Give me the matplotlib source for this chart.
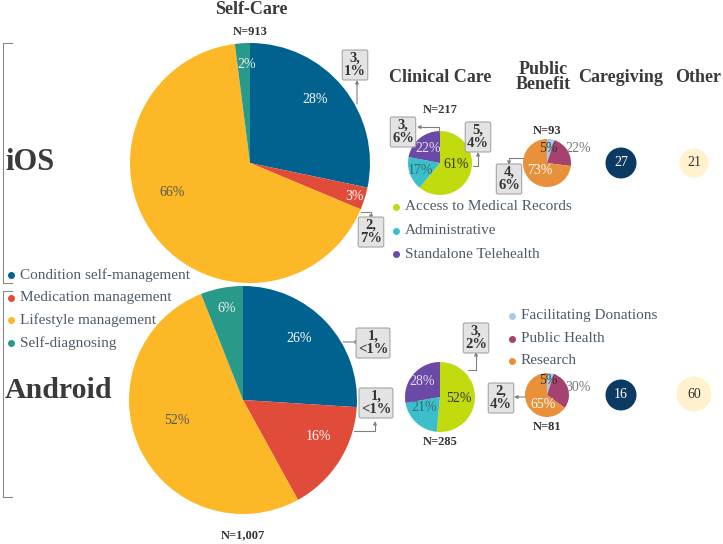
import matplotlib.pyplot as plt
from matplotlib.patches import Circle

plt.rcParams['font.family'] = ['Liberation Serif', 'DejaVu Serif']

H = 544

def P(x, y):
    # pixel position (origin top-left) -> axes data
    return (x, H - y)

# ---- data ----
self_cats = ['Condition self-management', 'Medication management',
             'Lifestyle management', 'Self-diagnosing']
self_colors = ['#02628F', '#E14B39', '#FDB827', '#29998A']
self_ios = [28, 3, 66, 2]
self_android = [26, 16, 52, 6]
self_n = ['N=913', 'N=1,007']

clin_cats = ['Access to Medical Records', 'Administrative', 'Standalone Telehealth']
clin_colors = ['#C2DB0E', '#3DBFCB', '#6A4AA6']
clin_ios = [61, 17, 22]
clin_android = [52, 21, 28]
clin_n = ['N=217', 'N=285']

pub_cats = ['Facilitating Donations', 'Public Health', 'Research']
pub_colors = ['#A3CCEA', '#A5426F', '#E8913A']
pub_ios = [5, 22, 73]
pub_android = [5, 30, 65]
pub_n = ['N=93', 'N=81']

caregiving = [27, 16]
other = [21, 60]

fig = plt.figure(figsize=(7.23, 5.44), dpi=100)
ax = fig.add_axes([0, 0, 1, 1])


def draw_pie(vals, colors, cx, cy, r, offs, tcolors):
    wedges, _ = ax.pie(vals, colors=colors, startangle=90, counterclock=False,
                       center=P(cx, cy), radius=r,
                       wedgeprops=dict(linewidth=0))
    c = P(cx, cy)
    for v, (dx, dy), tc in zip(vals, offs, tcolors):
        ax.text(c[0] + dx * r, c[1] + dy * r, f'{v}%', ha='center', va='center',
                fontsize=10, color=tc)


# self-care pies
draw_pie(self_ios, self_colors, 250, 163, 120,
         [(0.54, 0.53), (0.87, -0.28), (-0.65, -0.25), (-0.03, 0.82)],
         ['white', 'white', '#555555', '#e8f3f0'])
draw_pie(self_android, self_colors, 243, 400, 114,
         [(0.49, 0.54), (0.66, -0.32), (-0.58, -0.18), (-0.14, 0.80)],
         ['white', 'white', '#555555', '#e8f3f0'])

# clinical care pies
draw_pie(clin_ios, clin_colors, 440, 163, 32,
         [(0.5, -0.06), (-0.62, -0.25), (-0.37, 0.44)],
         ['#333333', '#2f6f73', '#e6def2'])
draw_pie(clin_android, clin_colors, 440, 397, 35,
         [(0.54, -0.03), (-0.46, -0.31), (-0.51, 0.43)],
         ['#333333', '#2f6f73', '#e6def2'])

# public benefit pies
draw_pie(pub_ios, pub_colors, 547, 163, 24,
         [(0.04, 0.62), (1.3, 0.62), (-0.3, -0.33)],
         ['#333333', '#777777', 'white'])
draw_pie(pub_android, pub_colors, 547, 395, 22,
         [(0.05, 0.64), (1.4, 0.36), (-0.18, -0.41)],
         ['#333333', '#777777', 'white'])

# caregiving / other bubbles
for val, y, r in zip(caregiving, [163, 395], [15.5, 15.5]):
    ax.add_patch(Circle(P(621, y), r, color='#0B3A63', lw=0))
    ax.text(*P(621, y), str(val), ha='center', va='center', fontsize=10, color='white')
for val, y, r in zip(other, [163, 394], [14.5, 17.5]):
    ax.add_patch(Circle(P(694, y), r, color='#FFF2CC', lw=0))
    ax.text(*P(694, y), str(val), ha='center', va='center', fontsize=10, color='#333333')

# N labels
for txt, (x, y) in zip(self_n + clin_n + pub_n,
                       [(250, 32), (243, 535), (440, 110), (440, 442), (547, 131), (547, 427)]):
    ax.text(*P(x, y), txt, ha='center', va='center', fontsize=9, fontweight='bold',
            color='#333333')

# headers
hc = '#3a3a3a'
ax.text(*P(251, 10), 'Self-Care', ha='center', va='center', fontsize=13, fontweight='bold', color=hc)
ax.text(*P(440, 78), 'Clinical Care', ha='center', va='center', fontsize=13, fontweight='bold', color=hc)
ax.text(*P(543, 77), 'Public\nBenefit', ha='center', va='center', fontsize=13, fontweight='bold',
        color=hc, linespacing=0.8)
ax.text(*P(621, 78), 'Caregiving', ha='center', va='center', fontsize=13, fontweight='bold', color=hc)
ax.text(*P(698, 78), 'Other', ha='center', va='center', fontsize=13, fontweight='bold', color=hc)
ax.text(*P(5, 163), 'iOS', ha='left', va='center', fontsize=22, fontweight='bold', color=hc)
ax.text(*P(5, 390), 'Android', ha='left', va='center', fontsize=21.5, fontweight='bold', color=hc)

# platform brackets
for y0, y1 in [(43, 283), (291, 497)]:
    ax.plot([12, 3, 3, 12], [H - y0, H - y0, H - y1, H - y1], color='#8a8a8a', lw=0.8)

# legends
lc = '#4d5b69'


def legend(cats, colors, x, y0, dy):
    for i, (cat, col) in enumerate(zip(cats, colors)):
        y = y0 + i * dy
        ax.plot(*P(x, y), 'o', color=col, ms=4)
        ax.text(*P(x + 9, y), cat, ha='left', va='center', fontsize=11, color=lc)


legend(self_cats, self_colors, 11, 275, 22.7)
legend(clin_cats, clin_colors, 396, 207, 23.5)
legend(pub_cats, pub_colors, 512, 316, 22.5)

# small-slice callouts
callouts = [
    ('3,\n1%', (355, 65), (357, 104), (357, 80), 'arc3'),
    ('2,\n7%', (371, 232), (361, 212), (371, 219), 'angle,angleA=0,angleB=90,rad=0'),
    ('3,\n6%', (403, 132), (439, 132), (417, 127), 'angle,angleA=90,angleB=0,rad=0'),
    ('5,\n4%', (478, 137), (473, 166), (478, 152), 'angle,angleA=0,angleB=90,rad=0'),
    ('4,\n6%', (509, 179), (523, 158), (509, 165), 'angle,angleA=0,angleB=90,rad=0'),
    ('1,\n<1%', (373, 343), (343, 342), (359, 342), 'arc3'),
    ('1,\n<1%', (376, 403), (354, 431), (375, 421), 'angle,angleA=0,angleB=90,rad=0'),
    ('3,\n2%', (476, 338), (468, 370), (476, 352), 'angle,angleA=0,angleB=90,rad=0'),
    ('2,\n4%', (501, 398), (525, 397), (514, 397), 'arc3'),
]
for txt, tp, start, end, cs in callouts:
    ax.text(*P(*tp), txt, ha='center', va='center', fontsize=10.5, fontweight='bold',
            color='#333333', linespacing=1.05, zorder=6,
            bbox=dict(boxstyle='round,pad=0.12,rounding_size=0.12', fc='#E3E3E3',
                      ec='#A5A5A5', lw=0.8))
    ax.annotate('', xy=P(*end), xytext=P(*start), zorder=4,
                arrowprops=dict(arrowstyle='-|>', color='#808080', lw=0.8,
                                mutation_scale=5, shrinkA=0, shrinkB=0,
                                connectionstyle=cs))

ax.set_xlim(0, 723)
ax.set_ylim(0, H)
ax.set_aspect('equal')
ax.axis('off')

fig.savefig('out.png', dpi=100)
